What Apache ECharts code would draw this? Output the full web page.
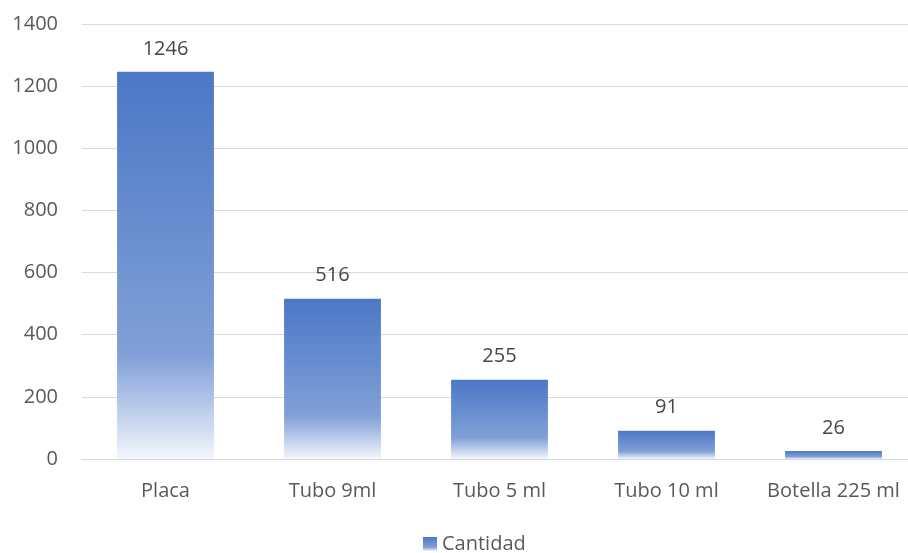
<!DOCTYPE html>
<html>
<head>
<meta charset="utf-8">
<script src="https://cdn.jsdelivr.net/npm/echarts@6/dist/echarts.min.js"></script>
<style>
  html, body { margin: 0; padding: 0; background: #fff; }
  #chart { width: 908px; height: 553px; }
</style>
</head>
<body>
<div id="chart"></div>
<script>
  var categories = ['Placa', 'Tubo 9ml', 'Tubo 5 ml', 'Tubo 10 ml', 'Botella 225 ml'];
  var cantidad = [1246, 516, 255, 91, 26];
  var seriesName = 'Cantidad';

  var font = "'Open Sans', 'Liberation Sans', sans-serif";
  var barGradient = new echarts.graphic.LinearGradient(0, 0, 0, 1, [
    { offset: 0, color: '#4472C4' },
    { offset: 0.73, color: '#7C9CD5' },
    { offset: 0.83, color: '#A6BCE5' },
    { offset: 1, color: '#F3F6FB' }
  ]);

  var myChart = echarts.init(document.getElementById('chart'));
  var option = {
    animation: false,
    textStyle: { fontFamily: font },
    legend: {
      top: 529,
      left: 418,
      itemWidth: 14,
      itemHeight: 14,
      itemGap: 6,
      data: [{ name: seriesName, icon: 'rect' }],
      textStyle: { color: '#595959', fontSize: 20, fontFamily: font }
    },
    grid: {
      left: 82,
      width: 835,
      top: 24,
      bottom: 94,
      outerBoundsMode: 'none',
      containLabel: false
    },
    xAxis: {
      type: 'category',
      data: categories,
      axisTick: { show: false },
      axisLine: { lineStyle: { color: '#D9D9D9', width: 1 } },
      axisLabel: {
        color: '#595959',
        fontSize: 20,
        margin: 22,
        interval: 0,
        hideOverlap: false,
        fontFamily: font
      }
    },
    yAxis: {
      type: 'value',
      min: 0,
      max: 1400,
      interval: 200,
      axisLine: { show: false },
      axisTick: { show: false },
      axisLabel: {
        color: '#595959',
        fontSize: 20,
        margin: 24,
        fontFamily: font,
        formatter: function (v) { return String(v); }
      },
      splitLine: { lineStyle: { color: '#D9D9D9', width: 1 } }
    },
    series: [
      {
        name: seriesName,
        type: 'bar',
        data: cantidad,
        barCategoryGap: '42%',
        itemStyle: { color: barGradient, opacity: 0.96 },
        label: {
          show: true,
          position: 'top',
          distance: 13,
          color: '#404040',
          fontSize: 20,
          fontFamily: font
        }
      }
    ]
  };
  option && myChart.setOption(option);
</script>
</body>
</html>
